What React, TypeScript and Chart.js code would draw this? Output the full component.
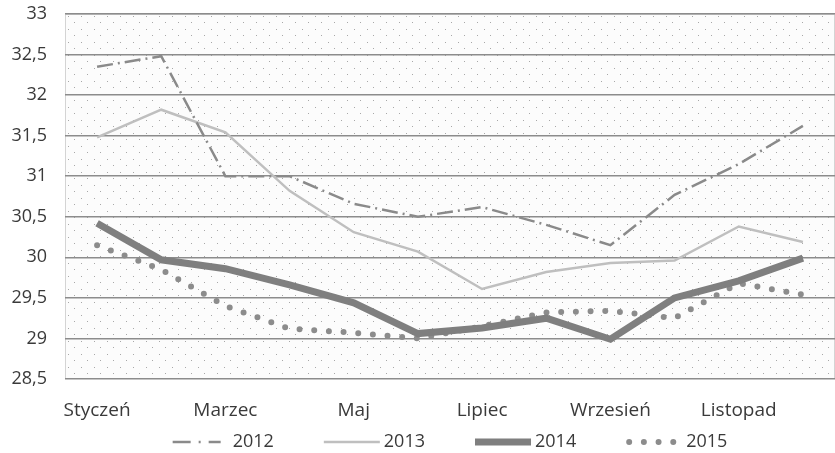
import React, { useEffect, useRef } from 'react';
import { Chart, registerables } from 'chart.js';

Chart.register(...registerables);

const months = ['Styczeń', 'Luty', 'Marzec', 'Kwiecień', 'Maj', 'Czerwiec', 'Lipiec', 'Sierpień', 'Wrzesień', 'Październik', 'Listopad', 'Grudzień'];
const years = ['2012', '2013', '2014', '2015'];
const s2012 = [32.35, 32.48, 31.0, 31.0, 30.66, 30.5, 30.62, 30.4, 30.15, 30.77, 31.15, 31.62];
const s2013 = [31.48, 31.82, 31.54, 30.82, 30.31, 30.07, 29.61, 29.82, 29.93, 29.96, 30.38, 30.19];
const s2014 = [30.42, 29.97, 29.86, 29.66, 29.44, 29.06, 29.13, 29.25, 28.99, 29.5, 29.71, 29.99];
const s2015 = [30.15, 29.85, 29.4, 29.12, 29.07, 29.0, 29.15, 29.32, 29.34, 29.25, 29.68, 29.54];
const yMin = 28.5;
const yMax = 33;
const yStep = 0.5;

const FONT = '"Open Sans", "DejaVu Sans", sans-serif';
const TEXT = '#3a3a3a';

export default function App() {
  const ref = useRef<HTMLCanvasElement>(null);

  useEffect(() => {
    document.body.style.margin = '0';
    const canvas = ref.current!;

    const tile = document.createElement('canvas');
    tile.width = 13;
    tile.height = 13;
    const tctx = tile.getContext('2d')!;
    tctx.fillStyle = '#fcfcfc';
    tctx.fillRect(0, 0, 13, 13);
    tctx.fillStyle = '#a8a8a8';
    tctx.fillRect(3, 3, 1, 1);
    tctx.fillRect(9, 9, 1, 1);

    const bgPlugin = {
      id: 'bgPattern',
      beforeDraw(chart: any) {
        const { ctx, chartArea: a } = chart;
        const pat = ctx.createPattern(tile, 'repeat');
        ctx.save();
        ctx.fillStyle = pat;
        ctx.fillRect(a.left, a.top, a.right - a.left, a.bottom - a.top);
        ctx.strokeStyle = '#d4d4d4';
        ctx.lineWidth = 1;
        ctx.strokeRect(a.left + 0.5, a.top + 0.5, a.right - a.left - 1, a.bottom - a.top - 1);
        ctx.restore();
      },
    };

    const legendPlugin = {
      id: 'customLegend',
      afterDraw(chart: any) {
        const { ctx, chartArea: a } = chart;
        const sample = 56;
        const gap = 4;
        const itemGap = 50;
        ctx.save();
        ctx.font = `18px ${FONT}`;
        const widths = chart.data.datasets.map((d: any) => sample + gap + ctx.measureText(d.label).width);
        const total = widths.reduce((s: number, w: number) => s + w, 0) + itemGap * (widths.length - 1);
        let x = (a.left + a.right) / 2 - total / 2;
        const y = 442;
        chart.data.datasets.forEach((d: any, i: number) => {
          ctx.save();
          ctx.strokeStyle = d.borderColor;
          ctx.lineWidth = d.borderWidth;
          ctx.lineCap = d.borderCapStyle || 'butt';
          ctx.setLineDash(d.legendDash || d.borderDash || []);
          ctx.beginPath();
          const off = d.borderCapStyle === 'round' ? d.borderWidth / 2 : 0;
          ctx.moveTo(x + off, y);
          ctx.lineTo(x + sample - off, y);
          ctx.stroke();
          ctx.restore();
          ctx.fillStyle = TEXT;
          ctx.textBaseline = 'middle';
          ctx.textAlign = 'left';
          ctx.fillText(d.label, x + sample + gap, y);
          x += widths[i] + itemGap;
        });
        ctx.restore();
      },
    };

    const chart = new Chart(canvas, {
      type: 'line',
      data: {
        labels: months,
        datasets: [
          {
            label: years[0],
            data: s2012,
            borderColor: '#8a8a8a',
            borderWidth: 2.5,
            borderDash: [16, 5, 2, 5],
            legendDash: [18, 8, 2, 8, 12, 100],
            pointRadius: 0,
            tension: 0,
          } as any,
          {
            label: years[1],
            data: s2013,
            borderColor: '#bfbfbf',
            borderWidth: 2.5,
            pointRadius: 0,
            tension: 0,
          },
          {
            label: years[2],
            data: s2014,
            borderColor: '#7f7f7f',
            borderWidth: 7,
            pointRadius: 0,
            tension: 0,
          },
          {
            label: years[3],
            data: s2015,
            borderColor: '#8c8c8c',
            borderWidth: 6,
            borderDash: [0, 14.7],
            borderCapStyle: 'round',
            legendDash: [0, 14.7],
            pointRadius: 0,
            tension: 0,
          } as any,
        ],
      },
      options: {
        animation: false,
        responsive: false,
        maintainAspectRatio: false,
        layout: { autoPadding: false, padding: { top: 14, right: 0, bottom: 29, left: 0 } },
        plugins: {
          legend: { display: false },
          tooltip: { enabled: false },
        },
        scales: {
          x: {
            offset: true,
            grid: { display: false },
            border: { display: false },
            afterFit(scale: any) {
              scale.height = 45;
              scale.paddingLeft = 0;
              scale.paddingRight = 0;
            },
            ticks: {
              autoSkip: false,
              maxRotation: 0,
              padding: 12,
              color: TEXT,
              font: { family: FONT, size: 19 },
              callback(_v: any, i: number) {
                return i % 2 === 0 ? months[i] : null;
              },
            },
          },
          y: {
            min: yMin,
            max: yMax,
            afterFit(scale: any) {
              scale.width = 65;
              scale.paddingTop = 0;
              scale.paddingBottom = 0;
            },
            ticks: {
              stepSize: yStep,
              padding: 18,
              color: TEXT,
              font: { family: FONT, size: 18 },
              callback(v: any) {
                return String(Number(v)).replace('.', ',');
              },
            },
            grid: { color: '#8c8c8c', lineWidth: 1.5, drawTicks: false },
            border: { display: false },
          },
        },
      },
      plugins: [bgPlugin, legendPlugin],
    });

    return () => chart.destroy();
  }, []);

  return (
    <div style={{ width: 835, height: 453 }}>
      <canvas ref={ref} width={835} height={453} style={{ display: 'block', width: 835, height: 453 }} />
    </div>
  );
}
